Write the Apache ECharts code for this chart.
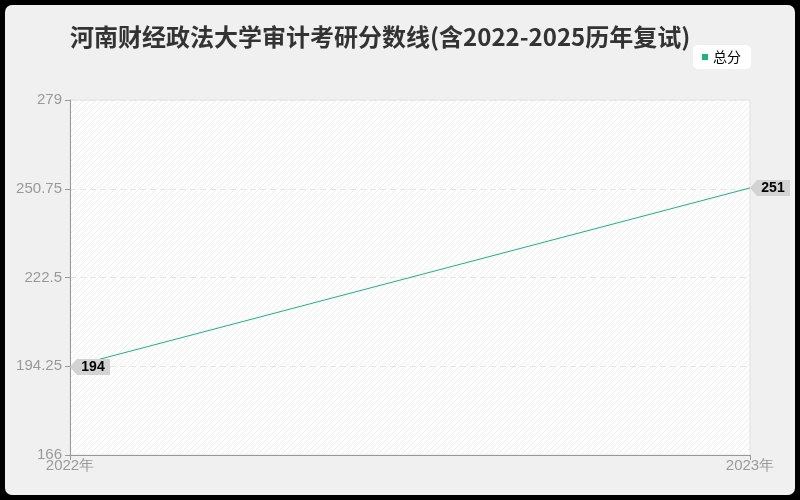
<!DOCTYPE html>
<html>
<head>
<meta charset="utf-8">
<script src="https://cdn.jsdelivr.net/npm/echarts@6/dist/echarts.min.js"></script>
<style>
  html, body { margin: 0; padding: 0; background: #000; }
  #frame { width: 800px; height: 500px; background: #000; position: relative; }
  #main { position: absolute; left: 5px; top: 5px; width: 790px; height: 490px;
          background: #f0f0f0; border-radius: 7px; overflow: hidden; }
</style>
</head>
<body>
<div id="frame"><div id="main"></div></div>
<script>
var years = ['2022年', '2023年'];
var scores = [194, 251];
var yMin = 166;
var yMax = 279;
var yStep = 28.25;

// hatch pattern for the plot area
function makeHatch() {
    var c = document.createElement('canvas');
    c.width = 6; c.height = 6;
    var g = c.getContext('2d');
    g.fillStyle = '#fdfdfd';
    g.fillRect(0, 0, 6, 6);
    g.strokeStyle = '#efefef';
    g.lineWidth = 1;
    g.beginPath();
    g.moveTo(0, 6); g.lineTo(6, 0);
    g.moveTo(-2, 2); g.lineTo(2, -2);
    g.moveTo(4, 8); g.lineTo(8, 4);
    g.stroke();
    return c;
}

var chart = echarts.init(document.getElementById('main'));

var tagPath = 'path://M0,8 L7,0 L40,0 L40,16 L7,16 Z';

var option = {
    animation: false,
    title: {
        text: '河南财经政法大学审计考研分数线(含2022-2025历年复试)',
        left: 60,
        top: 15,
        textStyle: {
            fontFamily: 'Noto Sans CJK SC',
            fontSize: 24,
            fontWeight: 'bold',
            color: '#333'
        }
    },
    legend: {
        right: 44,
        top: 40,
        data: ['总分'],
        icon: 'rect',
        itemWidth: 6,
        itemHeight: 6,
        itemGap: 6,
        padding: [5, 10, 5, 9],
        backgroundColor: '#fff',
        borderRadius: 5,
        textStyle: { color: '#000', fontSize: 14, fontFamily: 'Noto Sans CJK SC' }
    },
    grid: {
        left: 65,
        right: 45,
        top: 95,
        bottom: 40,
        show: true,
        borderColor: '#e2e2e2',
        borderWidth: 1,
        backgroundColor: { image: makeHatch(), repeat: 'repeat' }
    },
    xAxis: {
        type: 'category',
        data: years,
        boundaryGap: false,
        axisLine: { lineStyle: { color: '#999' } },
        axisTick: { show: true, lineStyle: { color: '#999' } },
        axisLabel: { color: '#999', fontSize: 15, margin: 3 },
        splitLine: { show: false }
    },
    yAxis: [{
        type: 'value',
        min: yMin,
        max: yMax,
        show: false
    }, {
        // tick axis: offset by yMin so ticks start at yMin
        type: 'value',
        min: 0,
        max: yMax - yMin,
        interval: yStep,
        position: 'left',
        axisLine: { show: true, lineStyle: { color: '#999' } },
        axisTick: { show: true, lineStyle: { color: '#999' } },
        axisLabel: {
            color: '#999', fontSize: 15, margin: 8,
            formatter: function (v) { return String(+(v + yMin).toFixed(2)); }
        },
        splitLine: { show: true, lineStyle: { color: '#e6e6e6', type: [6, 4] } }
    }],
    series: [{
        name: '总分',
        type: 'line',
        yAxisIndex: 0,
        data: scores,
        showSymbol: false,
        symbol: 'none',
        itemStyle: { color: '#1db383' },
        lineStyle: { color: '#1db383', width: 1 },
        markPoint: {
            symbol: tagPath,
            symbolSize: [40, 16],
            symbolOffset: [20, 0],
            itemStyle: { color: '#d3d3d3' },
            label: {
                show: true,
                color: '#000',
                fontWeight: 'bold',
                fontSize: 14,
                offset: [3, 0],
                formatter: '{c}'
            },
            data: scores.map(function (v, i) {
                return { coord: [i, v], value: v };
            })
        }
    }]
};

chart.setOption(option);
</script>
</body>
</html>
